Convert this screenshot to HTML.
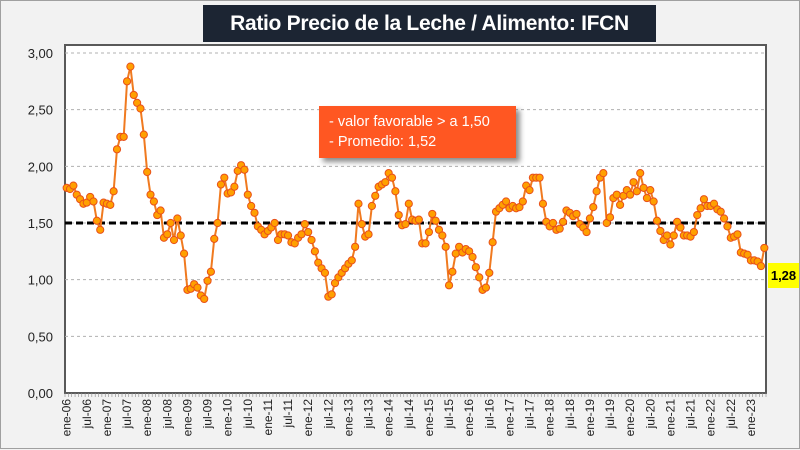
<!DOCTYPE html>
<html><head><meta charset="utf-8">
<style>
body{margin:0;width:800px;height:449px;overflow:hidden;background:#f2f2f2;font-family:"Liberation Sans",sans-serif;}
#wrap{position:absolute;left:0;top:0;width:798px;height:447px;border:1px solid #a0a0a0;background:#f2f2f2;}
#title{position:absolute;left:202px;top:4px;width:453px;height:37px;background:#1c2533;color:#fff;font-size:21px;font-weight:bold;text-align:center;line-height:37px;white-space:nowrap;letter-spacing:-0.3px;}
#note{position:absolute;left:318px;top:105px;width:197px;height:52px;background:#ff5722;box-shadow:4px 4px 5px rgba(0,0,0,0.45);color:#fff;font-size:14.5px;line-height:20px;padding:6px 0 0 10px;box-sizing:border-box;white-space:nowrap;}
#last{position:absolute;left:767px;top:262px;width:31px;height:25px;background:#ffff00;font-weight:bold;font-size:13px;line-height:25px;text-align:center;}
</style></head><body>
<div id="wrap">
<svg id="chart" width="800" height="449" style="position:absolute;left:0;top:0"></svg>
<div id="title">Ratio Precio de la Leche / Alimento: IFCN</div>
<div id="note">- valor favorable &gt; a 1,50<br>- Promedio: 1,52</div>
<div id="last">1,28</div>
</div>
<script>
const values=[1.81,1.80,1.83,1.75,1.71,1.67,1.68,1.73,1.69,1.52,1.44,1.68,1.67,1.66,1.78,2.15,2.26,2.26,2.75,2.88,2.63,2.56,2.51,2.28,1.95,1.75,1.69,1.57,1.61,1.37,1.40,1.50,1.35,1.54,1.39,1.23,0.91,0.92,0.96,0.93,0.86,0.83,0.99,1.07,1.36,1.50,1.84,1.90,1.76,1.77,1.82,1.96,2.01,1.97,1.75,1.65,1.59,1.47,1.44,1.40,1.43,1.46,1.50,1.35,1.40,1.40,1.39,
1.33,1.32,1.37,1.40,1.49,1.42,1.35,1.25,1.15,1.10,1.06,0.85,0.87,0.97,1.02,1.06,1.10,1.14,1.17,1.29,1.67,1.49,1.38,1.40,1.65,1.74,1.82,1.84,1.86,1.94,1.90,1.78,1.57,1.48,1.49,1.67,1.53,1.52,1.53,1.32,1.32,1.42,1.58,1.52,1.44,1.39,1.29,0.95,1.07,1.23,1.29,1.24,1.27,1.25,1.20,1.11,1.02,0.91,0.93,1.06,1.33,1.60,1.63,1.66,1.69,1.63,1.65,1.63,1.64,1.69,1.83,1.79,1.90,1.90,1.90,1.67,
1.51,1.47,1.50,1.44,1.45,1.51,1.61,1.59,1.56,1.58,1.49,1.46,1.42,1.54,1.64,1.78,1.90,1.94,1.50,1.55,1.72,1.75,1.66,1.74,1.79,1.75,1.86,1.78,1.94,1.81,1.72,1.79,1.69,1.52,1.43,1.35,1.39,1.31,1.39,1.51,1.46,1.39,1.39,1.38,1.42,1.57,1.63,1.71,1.65,1.65,1.67,1.62,1.60,1.54,1.47,1.37,1.38,1.40,1.24,1.23,1.22,1.17,1.17,1.16,1.12,1.28];
const yTicks=[0,0.5,1,1.5,2,2.5,3];
const yTickLabels=["0,00","0,50","1,00","1,50","2,00","2,50","3,00"];
const refLine=[1.5];
const years=[6,7,8,9,10,11,12,13,14,15,16,17,18,19,20,21,22,23];

const NS="http://www.w3.org/2000/svg";
const svg=document.getElementById('chart');
const L=64,R=765,T=44,B=392;
const n=values.length;
const step=(R-L)/n;
function x(i){return L+step*(i+0.5);}
function y(v){return B-(v/3)*(B-52);}
function mk(t,a){const e=document.createElementNS(NS,t);for(const k in a)e.setAttribute(k,a[k]);svg.appendChild(e);return e;}

const plot=mk('rect',{x:L,y:T,width:R-L,height:B-T,fill:'#fff',stroke:'#595959','stroke-width':2});



yTicks.forEach((t,i)=>{
  if(t>0){const g=mk('line',{x1:L,x2:R,y1:y(t),y2:y(t),stroke:'#b0b0b0','stroke-dasharray':'3,3','stroke-width':1});
  
  }
  const tx=mk('text',{x:52,y:y(t)+5,'text-anchor':'end','font-size':13,fill:'#222'});
  tx.textContent=yTickLabels[i];
  
  
});
for(let i=0;i<=n;i++){
  const xx=L+step*i;
  const tk=mk('line',{x1:xx,x2:xx,y1:B,y2:B+4,stroke:'#888','stroke-width':0.6});
  
  
}
years.forEach(yr=>{
  const yy=String(yr).padStart(2,'0');
  [["ene",0],["jul",6]].forEach(([m,off])=>{
    const idx=(yr-6)*12+off;
    if(idx>=n)return;
    const xx=x(idx)+4;
    const tx=mk('text',{x:0,y:0,'text-anchor':'end','font-size':12,fill:'#222',transform:`translate(${xx},${B+6}) rotate(-90)`});
    tx.textContent=m+'-'+yy;
    
    
  });
});
const ref=mk('line',{x1:L,x2:R,y1:y(refLine[0]),y2:y(refLine[0]),stroke:'#000','stroke-width':3,'stroke-dasharray':'7,4'});


const pl=mk('polyline',{points:values.map((v,i)=>x(i)+','+y(v)).join(' '),fill:'none',stroke:'#f07a20','stroke-width':2});


values.forEach((v,i)=>{
  const c=mk('circle',{cx:x(i),cy:y(v),r:3.6,fill:'#ffa000',stroke:'#e8501a','stroke-width':1});
  
  
});
</script>
</body></html>
